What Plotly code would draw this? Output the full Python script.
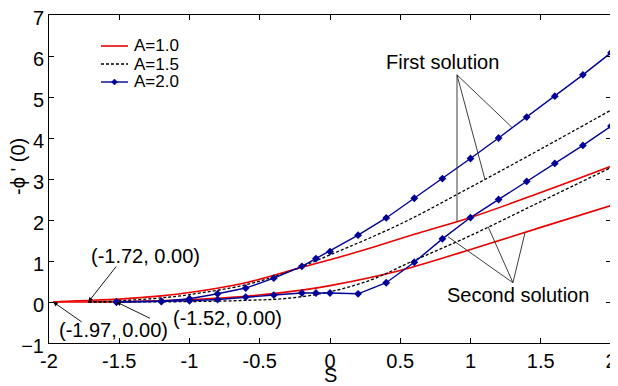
import plotly.graph_objects as go

# A = 1.0 (red)
s_a10_first = [-1.97, -1.8, -1.5, -1.2, -1.0, -0.6, -0.2, 0.0, 0.3, 0.6, 1.0, 1.5, 2.0]
y_a10_first = [0.0, 0.03, 0.07, 0.15, 0.23, 0.47, 0.85, 1.03, 1.33, 1.65, 2.06, 2.67, 3.31]
s_a10_second = [-1.97, -1.5, -1.0, -0.6, -0.2, 0.0, 0.5, 1.0, 1.5, 2.0]
y_a10_second = [0.0, 0.01, 0.06, 0.14, 0.29, 0.40, 0.77, 1.28, 1.82, 2.35]

# A = 1.5 (black dashed)
s_a15_first = [-1.72, -1.5, -1.2, -1.0, -0.6, -0.3, 0.0, 0.5, 1.0, 1.5, 2.0]
y_a15_first = [0.0, 0.03, 0.10, 0.18, 0.42, 0.73, 1.15, 1.90, 2.80, 3.73, 4.68]
s_a15_second = [-1.72, -1.5, -1.0, -0.6, -0.3, 0.0, 0.3, 0.57, 1.0, 1.5, 2.0]
y_a15_second = [0.0, 0.0, 0.01, 0.04, 0.09, 0.25, 0.55, 0.97, 1.62, 2.45, 3.28]

# A = 2.0 (blue with markers)
s_a20 = [-1.52, -1.2, -1.0, -0.8, -0.6, -0.4, -0.2, -0.1, 0.0, 0.2, 0.4, 0.6, 0.8, 1.0, 1.2, 1.4, 1.6, 1.8, 2.0]
y_a20_first = [0.0, 0.02, 0.08, 0.2, 0.34, 0.58, 0.87, 1.06, 1.23, 1.63, 2.05, 2.53, 3.01, 3.5, 4.0, 4.51, 5.02, 5.54, 6.08]
y_a20_second = [0.0, 0.01, 0.03, 0.06, 0.12, 0.17, 0.22, 0.22, 0.22, 0.2, 0.47, 0.97, 1.54, 2.06, 2.50, 2.94, 3.38, 3.82, 4.29]

x_ticks = [-2, -1.5, -1, -0.5, 0, 0.5, 1, 1.5, 2]
x_tick_labels = ["-2", "-1.5", "-1", "-0.5", "0", "0.5", "1", "1.5", "2"]
y_ticks = [-1, 0, 1, 2, 3, 4, 5, 6, 7]
legend_names = ["A=1.0", "A=1.5", "A=2.0"]

RED = "rgb(235,0,0)"
BLUE = "rgb(0,0,150)"
FONT = "Liberation Sans, Arial, sans-serif"

fig = go.Figure()
fig.add_trace(go.Scatter(x=s_a10_first, y=y_a10_first, mode="lines", name=legend_names[0],
                         line=dict(color=RED, width=1.6, shape="spline")))
fig.add_trace(go.Scatter(x=s_a10_second, y=y_a10_second, mode="lines",
                         line=dict(color=RED, width=1.6, shape="spline")))
fig.add_trace(go.Scatter(x=s_a15_first, y=y_a15_first, mode="lines", name=legend_names[1],
                         line=dict(color="black", width=1.3, dash="3px,2px", shape="spline")))
fig.add_trace(go.Scatter(x=s_a15_second, y=y_a15_second, mode="lines",
                         line=dict(color="black", width=1.3, dash="3px,2px", shape="spline")))
fig.add_trace(go.Scatter(x=s_a20, y=y_a20_first, mode="lines+markers", name=legend_names[2],
                         line=dict(color=BLUE, width=1.4), marker=dict(symbol="diamond", size=6, color=BLUE)))
fig.add_trace(go.Scatter(x=s_a20, y=y_a20_second, mode="lines+markers",
                         line=dict(color=BLUE, width=1.4), marker=dict(symbol="diamond", size=6, color=BLUE)))

# pointer lines for solution labels
pointer_lines = [
    ((0.904, 5.54), (1.295, 4.26)),
    ((0.904, 5.54), (1.103, 2.99)),
    ((0.904, 5.54), (0.904, 1.96)),
    ((1.302, 0.47), (0.84, 1.59)),
    ((1.302, 0.47), (1.125, 1.84)),
    ((1.302, 0.47), (1.388, 1.69)),
]
for (x0, y0), (x1, y1) in pointer_lines:
    fig.add_shape(type="line", x0=x0, y0=y0, x1=x1, y1=y1, xref="x", yref="y",
                  line=dict(color="rgb(40,40,40)", width=0.9))

# manual legend (compact like the original); coordinates in reference-image pixels
L, T, W, H = 49, 15, 562, 328
def px(x): return (x - L) / W
def py(y): return (T + H - y) / H
leg_styles = [
    dict(color=RED, width=1.6, dash="solid"),
    dict(color="black", width=1.3, dash="3px,2px"),
    dict(color=BLUE, width=1.4, dash="solid"),
]
leg_rows = [46, 64, 82]
for name, st, ry in zip(legend_names, leg_styles, leg_rows):
    fig.add_shape(type="line", xref="paper", yref="paper", x0=px(101), x1=px(128), y0=py(ry), y1=py(ry),
                  line=st)
    fig.add_annotation(xref="paper", yref="paper", x=px(132), y=py(ry), text=name, showarrow=False,
                       xanchor="left", yanchor="middle", font=dict(family=FONT, size=17, color="black"))
cx, cy = 114.5, leg_rows[2]
fig.add_shape(type="path", xref="paper", yref="paper",
              path=f"M {px(cx-3)} {py(cy)} L {px(cx)} {py(cy-3)} L {px(cx+3)} {py(cy)} L {px(cx)} {py(cy+3)} Z",
              fillcolor=BLUE, line=dict(color=BLUE, width=0.5))

annots = [
    dict(x=0.80, y=5.86, text="First solution", showarrow=False),
    dict(x=1.34, y=0.17, text="Second solution", showarrow=False),
    dict(x=-1.31, y=1.13, text="(-1.72, 0.00)", showarrow=False),
    dict(x=-1.54, y=-0.69, text="(-1.97, 0.00)", showarrow=False),
    dict(x=-0.73, y=-0.39, text="(-1.52, 0.00)", showarrow=False),
    dict(x=-1.72, y=0.0, text="", showarrow=True, ax=29, ay=-37, arrowhead=2, arrowsize=1, arrowwidth=0.9, arrowcolor="black"),
    dict(x=-1.97, y=0.0, text="", showarrow=True, ax=30, ay=21, arrowhead=2, arrowsize=1, arrowwidth=0.9, arrowcolor="black"),
    dict(x=-1.52, y=0.0, text="", showarrow=True, ax=35, ay=17, arrowhead=2, arrowsize=1, arrowwidth=0.9, arrowcolor="black"),
    dict(xref="paper", yref="paper", x=px(330), y=py(375), text="S", showarrow=False, yanchor="middle"),
    dict(xref="paper", yref="paper", x=px(18), y=py(167), text="-\u03d5 ' (0)", showarrow=False,
         textangle=-90, xanchor="center", yanchor="middle"),
]
for a in annots:
    a.setdefault("font", dict(family=FONT, size=20, color="black"))
    fig.add_annotation(**a)

axis_common = dict(showline=True, linecolor="black", linewidth=1, mirror="ticks", automargin=False,
                   ticks="inside", ticklen=5, tickcolor="black", showgrid=False, zeroline=False,
                   ticklabeloverflow="allow",
                   tickfont=dict(family=FONT, size=20, color="black"))

# the page body has an 8px margin, so the figure is offset by 8px
fig.update_layout(
    width=610, height=378,
    margin=dict(l=41, r=7, t=7, b=43),
    paper_bgcolor="white", plot_bgcolor="white",
    xaxis=dict(range=[-2, 2], tickvals=x_ticks, ticktext=x_tick_labels, **axis_common),
    yaxis=dict(range=[-1, 7], tickvals=y_ticks, ticklabelshift=3, **axis_common),
    showlegend=False,
)

fig.write_html("out.html")
